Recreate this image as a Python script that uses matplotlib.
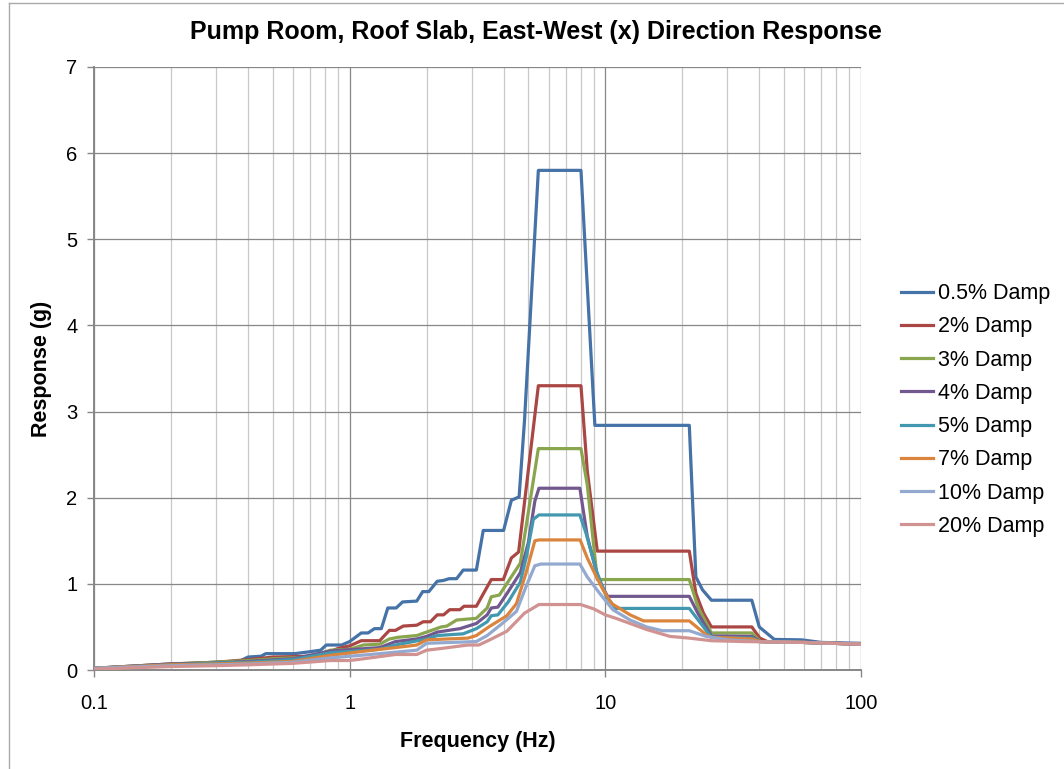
import matplotlib
matplotlib.use("Agg")
import matplotlib.pyplot as plt
from matplotlib.ticker import LogLocator, FixedLocator, FuncFormatter, NullFormatter
from matplotlib.lines import Line2D

plt.rcParams['font.family'] = ['Liberation Sans', 'DejaVu Sans']

title = "Pump Room, Roof Slab, East-West (x) Direction Response"
xlabel = "Frequency (Hz)"
ylabel = "Response (g)"
labels = ["0.5% Damp", "2% Damp", "3% Damp", "4% Damp",
          "5% Damp", "7% Damp", "10% Damp", "20% Damp"]
colors = ["#4572A7", "#AA4643", "#89A54E", "#71588F",
          "#4198AF", "#DB843D", "#93A9CF", "#D19392"]

# 0.5% damping
f_d05 = [0.1, 0.15, 0.2, 0.25, 0.3, 0.37, 0.4, 0.45, 0.47, 0.61, 0.69, 0.77, 0.81, 0.93,
         1.0, 1.11, 1.18, 1.25, 1.33, 1.41, 1.52, 1.61, 1.83, 1.93, 2.04, 2.2, 2.33, 2.45,
         2.62, 2.78, 3.13, 3.33, 4.0, 4.29, 4.6, 4.83, 5.47, 8.03, 9.1, 21.3, 22.6, 24.0,
         26.0, 37.4, 40.0, 45.8, 58.5, 70.0, 100.0]
r_d05 = [0.02, 0.04, 0.06, 0.08, 0.09, 0.10, 0.15, 0.16, 0.19, 0.19, 0.21, 0.23, 0.29, 0.29,
         0.33, 0.43, 0.43, 0.48, 0.48, 0.72, 0.72, 0.79, 0.80, 0.91, 0.91, 1.03, 1.04, 1.06,
         1.06, 1.16, 1.16, 1.62, 1.62, 1.97, 2.01, 2.90, 5.80, 5.80, 2.84, 2.84, 1.08, 0.93,
         0.81, 0.81, 0.50, 0.355, 0.35, 0.32, 0.31]

# 2% damping
f_d2 = [0.1, 0.2, 0.3, 0.4, 0.5, 0.7, 0.8, 0.9, 1.0, 1.11, 1.31, 1.43, 1.51, 1.62, 1.83,
        1.94, 2.07, 2.2, 2.33, 2.46, 2.7, 2.8, 3.13, 3.58, 3.99, 4.29, 4.58, 5.47, 8.03,
        8.5, 9.3, 21.3, 22.6, 24.2, 26.0, 37.4, 40.2, 43.0, 60.0, 100.0]
r_d2 = [0.02, 0.07, 0.09, 0.12, 0.15, 0.16, 0.19, 0.25, 0.28, 0.34, 0.34, 0.46, 0.46, 0.51, 0.52,
        0.56, 0.56, 0.64, 0.64, 0.70, 0.70, 0.74, 0.74, 1.05, 1.05, 1.30, 1.37, 3.30, 3.30,
        2.31, 1.38, 1.38, 0.89, 0.66, 0.50, 0.50, 0.37, 0.33, 0.32, 0.30]

# 3% damping
f_d3 = [0.1, 0.2, 0.3, 0.4, 0.5, 0.7, 0.84, 1.0, 1.13, 1.31, 1.43, 1.55, 1.83, 2.0, 2.28,
        2.4, 2.62, 3.13, 3.45, 3.58, 3.85, 4.22, 4.65, 5.47, 8.03, 8.5, 9.3, 21.3, 23.0,
        26.0, 37.4, 40.5, 60.0, 100.0]
r_d3 = [0.02, 0.07, 0.09, 0.11, 0.13, 0.15, 0.23, 0.24, 0.29, 0.30, 0.36, 0.38, 0.40, 0.44, 0.50,
        0.51, 0.58, 0.60, 0.72, 0.85, 0.87, 1.05, 1.24, 2.57, 2.57, 2.15, 1.05, 1.05, 0.735,
        0.43, 0.43, 0.33, 0.32, 0.30]

# 4% damping
f_d4 = [0.1, 0.2, 0.3, 0.4, 0.6, 0.84, 1.31, 1.51, 1.83, 2.0, 2.2, 2.7, 3.13, 3.45, 3.58,
        3.8, 4.17, 4.65, 5.0, 5.3, 5.5, 7.95, 8.5, 9.4, 10.2, 21.3, 23.0, 26.0, 37.4, 40.5,
        60.0, 100.0]
r_d4 = [0.02, 0.07, 0.08, 0.10, 0.13, 0.22, 0.26, 0.33, 0.36, 0.39, 0.44, 0.48, 0.54, 0.64, 0.72,
        0.73, 0.91, 1.13, 1.48, 1.96, 2.11, 2.11, 1.55, 1.05, 0.855, 0.855, 0.66, 0.395, 0.39,
        0.33, 0.32, 0.30]

# 5% damping
f_d5 = [0.1, 0.2, 0.3, 0.4, 0.6, 0.84, 1.31, 1.51, 2.0, 2.2, 2.78, 3.13, 3.45, 3.58, 3.8,
        4.17, 4.65, 4.9, 5.23, 5.5, 7.95, 8.42, 9.2, 10.1, 11.0, 21.3, 26.0, 37.4, 40.5,
        60.0, 100.0]
r_d5 = [0.02, 0.06, 0.08, 0.09, 0.12, 0.20, 0.24, 0.29, 0.36, 0.40, 0.42, 0.48, 0.56, 0.63, 0.64,
        0.79, 1.02, 1.30, 1.75, 1.80, 1.80, 1.58, 1.16, 0.85, 0.715, 0.715, 0.38, 0.37, 0.33,
        0.32, 0.30]

# 7% damping
f_d7 = [0.1, 0.2, 0.3, 0.4, 0.6, 0.84, 1.31, 1.51, 1.83, 2.0, 2.9, 3.13, 3.5, 4.12, 4.49,
        4.9, 5.3, 5.5, 7.97, 8.5, 9.2, 9.8, 10.6, 12.5, 14.1, 21.3, 24.8, 26.0, 37.4, 40.5,
        60.0, 100.0]
r_d7 = [0.02, 0.06, 0.07, 0.08, 0.10, 0.17, 0.24, 0.26, 0.29, 0.35, 0.37, 0.40, 0.50, 0.63, 0.77,
        1.13, 1.50, 1.51, 1.51, 1.30, 1.09, 0.93, 0.77, 0.64, 0.57, 0.57, 0.41, 0.38, 0.36,
        0.33, 0.32, 0.30]

# 10% damping
f_d10 = [0.1, 0.2, 0.3, 0.4, 0.6, 0.84, 1.31, 1.83, 2.0, 3.13, 3.45, 3.99, 4.49, 4.9, 5.3,
         5.6, 7.95, 8.5, 9.5, 10.7, 12.5, 14.5, 16.7, 21.3, 24.8, 30.0, 40.0, 60.0, 100.0]
r_d10 = [0.02, 0.05, 0.06, 0.07, 0.09, 0.14, 0.19, 0.23, 0.31, 0.33, 0.40, 0.55, 0.68, 0.97, 1.21,
         1.23, 1.23, 1.08, 0.89, 0.70, 0.58, 0.50, 0.456, 0.456, 0.39, 0.35, 0.33, 0.32, 0.30]

# 20% damping
f_d20 = [0.1, 0.2, 0.3, 0.4, 0.6, 0.84, 1.0, 1.13, 1.51, 1.83, 2.0, 2.28, 2.9, 3.2, 3.53,
         4.12, 4.83, 5.5, 8.0, 9.0, 10.0, 11.0, 12.5, 14.5, 17.9, 21.3, 26.0, 35.0, 60.0, 100.0]
r_d20 = [0.01, 0.04, 0.05, 0.06, 0.077, 0.11, 0.11, 0.13, 0.18, 0.18, 0.23, 0.25, 0.29, 0.29, 0.35,
         0.45, 0.66, 0.76, 0.76, 0.71, 0.64, 0.60, 0.54, 0.47, 0.39, 0.37, 0.34, 0.33, 0.32, 0.30]

series_f = [f_d05, f_d2, f_d3, f_d4, f_d5, f_d7, f_d10, f_d20]
series_r = [r_d05, r_d2, r_d3, r_d4, r_d5, r_d7, r_d10, r_d20]

W, H = 1064, 769
fig = plt.figure(figsize=(W / 100, H / 100), dpi=100)
L, R, T, B = 94, 861, 67, 670
ax = fig.add_axes([L / W, 1 - B / H, (R - L) / W, (B - T) / H])

for f, r, c, lab in zip(series_f, series_r, colors, labels):
    ax.plot(f, r, color=c, lw=2.3, label=lab, solid_joinstyle='round', zorder=3)

ax.set_xscale('log')
ax.set_xlim(0.1, 100)
ax.set_ylim(0, 7)
ax.set_yticks(range(0, 8))
ax.xaxis.set_major_locator(FixedLocator([0.1, 1, 10, 100]))
ax.xaxis.set_major_formatter(FuncFormatter(lambda v, p: f"{v:g}"))
ax.xaxis.set_minor_locator(LogLocator(base=10, subs=range(2, 10)))
ax.xaxis.set_minor_formatter(NullFormatter())

ax.grid(True, which='major', axis='both', color='#878787', lw=0.9, zorder=0)
ax.grid(True, which='minor', axis='x', color='#C8C8C8', lw=0.9, zorder=0)
ax.set_axisbelow(True)

for s in ['top', 'right']:
    ax.spines[s].set_visible(False)
for s in ['left', 'bottom']:
    ax.spines[s].set_color('#878787')
    ax.spines[s].set_linewidth(1.4)

ax.tick_params(axis='both', which='major', direction='out', length=5, width=1,
               color='#878787', labelsize=14.5)
ax.tick_params(axis='x', which='minor', length=0)
ax.tick_params(axis='x', which='major', pad=12)
ax.tick_params(axis='y', which='major', pad=7)

fig.text(536 / W, 1 - 32 / H, title, ha='center', va='center',
         fontsize=18, fontweight='bold')
fig.text(478 / W, 1 - 741 / H, xlabel, ha='center', va='center',
         fontsize=15.5, fontweight='bold')
fig.text(41 / W, 1 - 369 / H, ylabel, ha='center', va='center', rotation=90,
         fontsize=15.5, fontweight='bold')

leg = fig.legend(loc='center left', bbox_to_anchor=(901 / W, 1 - 410 / H),
                 frameon=False, fontsize=15.5, handlelength=1.5, handletextpad=0.2,
                 labelspacing=0.57, borderpad=0, borderaxespad=0)
for line in leg.get_lines():
    line.set_linewidth(2.3)

# chart area border (partially visible)
fig.add_artist(Line2D([9 / W, 9 / W], [0, 1 - 3 / H], color='#AAAAAA', lw=1.0))
fig.add_artist(Line2D([9 / W, 1], [1 - 3 / H, 1 - 3 / H], color='#AAAAAA', lw=1.0))

fig.savefig('out.png', dpi=100)
